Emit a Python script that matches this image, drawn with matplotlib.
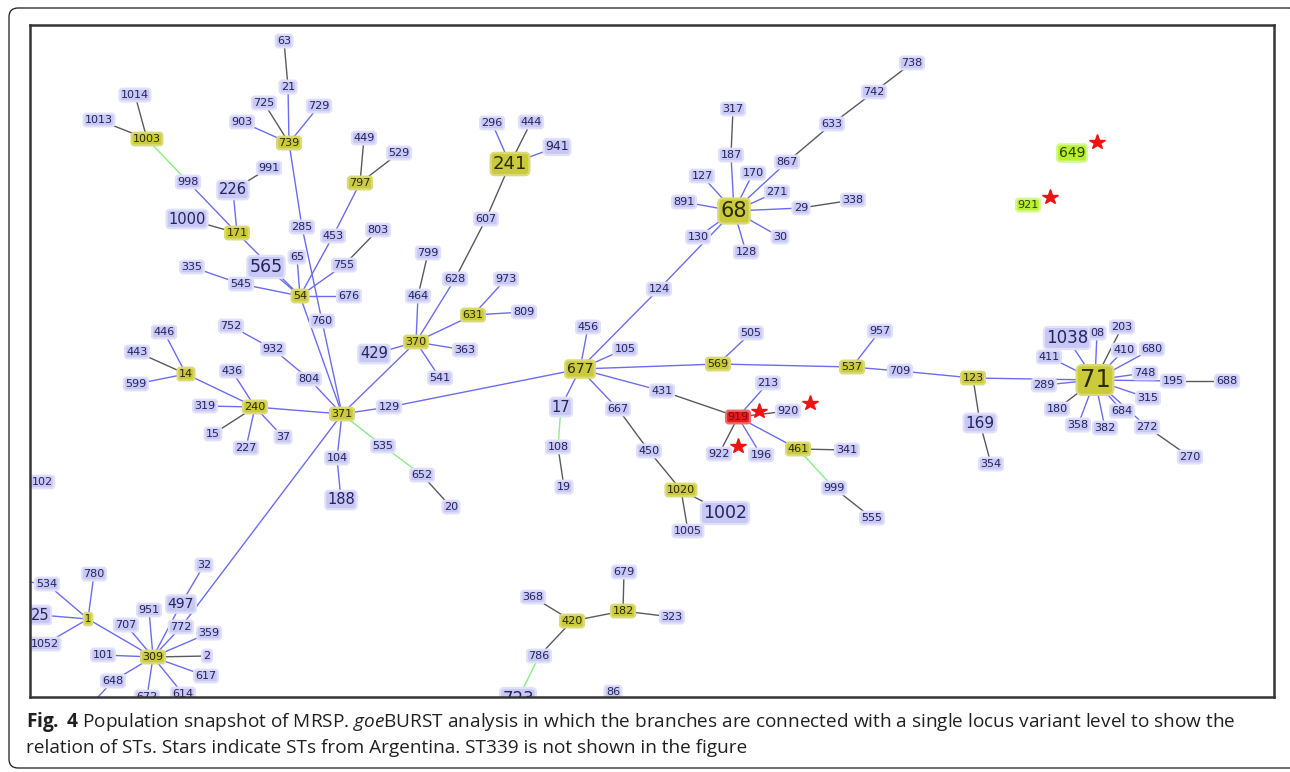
import matplotlib
matplotlib.use('Agg')
import matplotlib.pyplot as plt
from matplotlib.patches import FancyBboxPatch
from matplotlib.transforms import IdentityTransform

# ---------------- data: sequence types (STs) and their layout positions (pixel space) ----------------
st_labels = ['63', '21', '725', '729', '903', '739', '1014', '1013', '1003', '998', '991', '226', '1000', '171',
             '449', '529', '797', '285', '453', '803', '755', '565', '65', '335', '545', '54', '676', '760', '799', '464',
             '296', '444', '941', '241', '607', '628', '973', '631', '809',
             '317', '187', '127', '170', '867', '633', '742', '738', '271', '891', '68', '29', '338', '130', '30', '128', '124',
             '649', '921',
             '752', '932', '804', '446', '443', '14', '599', '436', '319', '240', '15', '227', '37', '371', '129', '370',
             '429', '541', '363', '104', '188', '535', '652', '20', '102',
             '456', '105', '677', '569', '505', '537', '957', '709', '123', '169', '354', '431', '213', '919', '920', '17',
             '108', '19', '667', '450', '1020', '1002', '1005', '922', '196', '461', '341', '999', '555',
             '71', '289', '1038', '08', '203', '410', '680', '411', '748', '195', '688', '315', '180', '684', '358', '382',
             '272', '270',
             '32', '780', '534', '25', '1', '1052', '951', '497', '707', '772', '359', '101', '309', '2', '648', '617',
             '614', '672',
             '679', '368', '182', '323', '420', '786', '723', '86',
             'p534', 'p648', 'p86']

st_x = [284, 288, 264, 319, 242, 289, 135, 99, 147, 188, 269, 233, 187, 237,
        364, 399, 360, 302, 333, 378, 344, 266, 297, 192, 241, 300, 349, 322, 428, 418,
        492, 531, 557, 510, 486, 455, 506, 473, 524,
        733, 731, 702, 753, 787, 832, 874, 912, 777, 684, 734, 801, 853, 698, 780, 746, 659,
        1072, 1028,
        231, 273, 309, 164, 137, 186, 136, 232, 205, 255, 213, 246, 283, 342, 389, 416,
        374, 440, 465, 337, 341, 383, 422, 451, 42,
        588, 625, 580, 718, 751, 852, 880, 900, 973, 980, 991, 662, 768, 738, 788, 561,
        558, 564, 618, 649, 681, 725, 688, 719, 761, 798, 847, 834, 872,
        1095, 1044, 1067, 1097, 1122, 1124, 1152, 1049, 1145, 1173, 1227, 1148, 1057, 1122, 1078, 1105,
        1147, 1190,
        204, 94, 47, 40, 88, 45, 149, 181, 126, 181, 209, 103, 153, 207, 113, 206,
        183, 147,
        624, 533, 623, 672, 572, 539, 518, 613,
        10, 80, 590]

st_y = [41, 87, 103, 106, 122, 143, 95, 120, 139, 182, 168, 190, 219, 233,
        138, 153, 183, 227, 236, 230, 265, 267, 257, 267, 284, 296, 296, 321, 253, 296,
        123, 122, 147, 164, 219, 279, 279, 315, 312,
        109, 155, 176, 173, 162, 124, 92, 63, 192, 202, 211, 208, 200, 237, 237, 252, 289,
        153, 205,
        326, 349, 379, 332, 352, 374, 384, 371, 406, 407, 434, 448, 437, 414, 407, 342,
        354, 378, 350, 458, 500, 446, 475, 507, 482,
        327, 349, 369, 364, 333, 367, 331, 371, 378, 423, 464, 391, 383, 417, 411, 407,
        447, 487, 409, 451, 490, 513, 531, 454, 455, 449, 450, 488, 518,
        380, 385, 338, 333, 327, 350, 349, 357, 373, 381, 381, 398, 409, 411, 425, 428,
        427, 457,
        565, 574, 584, 615, 619, 644, 610, 604, 625, 627, 633, 655, 657, 656, 681, 676,
        694, 697,
        572, 597, 611, 617, 621, 656, 699, 692,
        580, 716, 705]

# group founders, Argentine singletons, Argentine ST in a group
founders = ['739', '1003', '171', '797', '54', '241', '631', '68', '14', '240', '371', '370', '677', '569', '537',
            '123', '1020', '461', '71', '1', '309', '182', '420']
singletons_ar = ['649', '921']
group_ar = ['919']
offscreen = ['p534', 'p648', 'p86']

# links (single locus variants), by tie-break level colour
blue_links = ['21-739', '729-739', '903-739', '739-285', '285-760', '760-371', '998-171', '226-171', '171-54',
              '565-54', '797-453', '453-54', '755-54', '65-54', '335-545', '545-54', '676-54', '54-371',
              '752-932', '932-804', '804-371', '446-14', '599-14', '14-240', '436-240', '319-240', '227-240',
              '37-240', '240-371', '371-129', '129-677', '371-370', '370-464', '370-628', '296-241', '941-241',
              '370-429', '370-363', '370-541', '370-631', '631-973', '631-809', '371-104', '104-188',
              '371-772', '772-309', '32-497', '497-309', '677-456', '677-105', '677-124', '124-68', '130-68',
              '677-569', '569-505', '569-537', '537-957', '537-709', '709-123', '123-71', '289-71', '677-431',
              '919-213', '919-196', '919-461', '677-17', '677-667', '187-68', '127-68', '170-68', '867-68',
              '271-68', '891-68', '29-68', '30-68', '128-68', '1038-71', '08-71', '410-71', '680-71', '411-71',
              '748-71', '195-71', '315-71', '684-71', '358-71', '382-71', '272-71', '534-1', '25-1', '1052-1',
              '780-1', '1-309', '951-309', '707-309', '359-309', '101-309', '648-309', '617-309', '614-309',
              '672-309', 'p534-534', 'p648-648']
grey_links = ['63-21', '725-739', '1014-1003', '1013-1003', '991-226', '1000-171', '449-797', '529-797',
              '803-755', '443-14', '15-240', '464-799', '628-607', '607-241', '444-241', '652-20', '123-169',
              '169-354', '431-919', '919-920', '919-922', '461-341', '999-555', '108-19', '667-450', '450-1020',
              '1020-1002', '1020-1005', '317-187', '867-633', '633-742', '742-738', '29-338', '203-71',
              '195-688', '180-71', '272-270', '2-309', '368-420', '420-182', '182-679', '182-323', '420-786',
              'p86-86']
green_links = ['1003-998', '371-535', '535-652', '461-999', '17-108', '786-723']

# stars: STs from Argentina
star_x = [1097, 1050, 759, 810, 738]
star_y = [142, 197, 411, 403, 446]

caption_1 = (r'$\mathbf{Fig.}$ $\mathbf{4}$ Population snapshot of MRSP. $\mathit{goe}$BURST analysis in which the '
             r'branches are connected with a single locus variant level to show the')
caption_2 = 'relation of STs. Stars indicate STs from Argentina. ST339 is not shown in the figure'

# ---------------- styles ----------------
label_size = {'226': 10.5, '1000': 10.5, '565': 12.5, '941': 9, '241': 13, '68': 15, '649': 10,
              '429': 10.5, '188': 10.5, '677': 10, '169': 11, '17': 10.5, '1002': 12.5, '71': 17.5,
              '1038': 12, '25': 10.5, '497': 10, '723': 12, '1': 7}
link_colour = {'blue': '#6c6cee', 'grey': '#5a5a5a', 'green': '#86ee86'}

plt.rcParams['mathtext.fontset'] = 'custom'
plt.rcParams['mathtext.rm'] = 'Open Sans'
plt.rcParams['mathtext.it'] = 'Open Sans:italic'
plt.rcParams['mathtext.bf'] = 'Open Sans:bold'

W, H = 1290, 772
fig = plt.figure(figsize=(W / 100, H / 100), dpi=100)
fig.patch.set_facecolor('white')

# outer rounded frame
fig.patches.append(FancyBboxPatch((9, 4), 1290, 760, boxstyle='round,pad=0,rounding_size=9',
                                  transform=IdentityTransform(), fc='none', ec='#1a1a1a', lw=0.9))

bx0, by0, bx1, by1 = 30, 25, 1274, 697
ax = fig.add_axes([bx0 / W, 1 - by1 / H, (bx1 - bx0) / W, (by1 - by0) / H])
ax.set_xlim(bx0, bx1)
ax.set_ylim(by1, by0)
ax.set_xticks([])
ax.set_yticks([])
for s in ax.spines.values():
    s.set_linewidth(1.8)
    s.set_color('#353535')
    s.set_zorder(10)

pos = {lab: (x, y) for lab, x, y in zip(st_labels, st_x, st_y)}

for links, kind in ((blue_links, 'blue'), (grey_links, 'grey'), (green_links, 'green')):
    for lk in links:
        a, b = lk.split('-')
        ax.plot([pos[a][0], pos[b][0]], [pos[a][1], pos[b][1]], color=link_colour[kind],
                lw=1.0, zorder=1, solid_capstyle='butt')

for lab in st_labels:
    if lab in offscreen:
        continue
    x, y = pos[lab]
    fs = label_size.get(lab, 8)
    if lab in founders:
        fc, ec, tc = '#caca3c', '#dada7a', '#2a2a05'
    elif lab in singletons_ar:
        fc, ec, tc = '#b8f030', '#d6f890', '#2e3e05'
    elif lab in group_ar:
        fc, ec, tc = '#e41c1c', '#f06a6a', '#7a0c0c'
    else:
        fc, ec, tc = '#c8c8f4', '#e0e0fa', '#24245e'
    ax.text(x, y, lab, ha='center', va='center', fontsize=fs, color=tc, family='DejaVu Sans',
            bbox=dict(boxstyle='round,pad=0.12,rounding_size=0.25', fc=fc, ec=ec, lw=1.6),
            zorder=3, clip_on=True)

ax.plot(star_x, star_y, ls='none', marker='*', ms=11.5, color='#ee1212', mec='#ee1212', zorder=5)

fig.text(26 / W, 1 - 727 / H, caption_1, fontsize=13.7, family='Open Sans', color='#231f20', va='baseline')
fig.text(26 / W, 1 - 753 / H, caption_2, fontsize=13.7, family='Open Sans', color='#231f20', va='baseline')

fig.savefig('out.png', dpi=100, facecolor='white')
